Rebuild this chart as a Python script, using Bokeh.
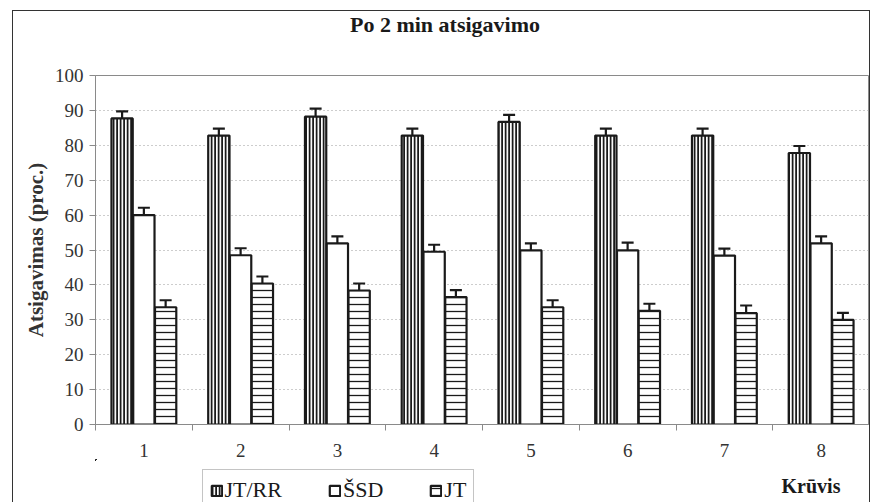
import numpy as np
from bokeh.plotting import figure
from bokeh.layouts import column
from bokeh.models import (Range1d, FixedTicker, Whisker, TeeHead, ColumnDataSource,
                          Legend, LegendItem, Label)
from bokeh.embed import file_html
from bokeh.resources import INLINE

categories = ["1", "2", "3", "4", "5", "6", "7", "8"]
series = ["JT/RR", "ŠSD", "JT"]
jt_rr = [87.7, 82.8, 88.2, 82.8, 86.7, 82.8, 82.8, 77.8]
ssd = [60.0, 48.5, 51.9, 49.5, 49.9, 49.9, 48.4, 51.9]
jt = [33.6, 40.4, 38.4, 36.5, 33.6, 32.6, 31.9, 30.0]
err_jt_rr = [2.0, 2.0, 2.3, 2.0, 2.0, 2.0, 2.0, 2.0]
err_ssd = [2.1, 2.0, 2.0, 2.0, 2.0, 2.2, 2.0, 2.0]
err_jt = [2.0, 2.0, 2.0, 2.0, 2.0, 2.0, 2.2, 2.0]
y_ticks = [0, 10, 20, 30, 40, 50, 60, 70, 80, 90, 100]
title_text = "Po 2 min atsigavimo"
x_name = "Krūvis"
y_name = "Atsigavimas (proc.)"

FONT = "Liberation Serif"
INK = "#1a1a1a"
AXC = "#8a8a8a"
CW = 856          # content width inside the outer frame
H_TOP = 30
H_MAIN = 418
H_LEG = 43
FX0, FX1 = 95.5, 869.5   # page x of the (aligned) frames


def strip(h, yr):
    f = figure(width=CW, height=h, output_backend="svg", toolbar_location=None,
               x_range=Range1d(FX0, FX1), y_range=yr,
               x_axis_location=None, y_axis_location=None,
               min_border=0, background_fill_color="white", border_fill_color="white")
    f.outline_line_color = None
    f.xgrid.visible = False
    f.ygrid.visible = False
    return f


# ---------------- title strip ----------------
pt = strip(H_TOP, Range1d(0, H_TOP))
pt.add_layout(Label(x=445, y=17.5, text=title_text, text_font=FONT,
                    text_font_size="22px", text_font_style="bold",
                    text_align="center", text_baseline="middle", text_color=INK))

# ---------------- main chart ----------------
p = figure(width=CW, height=H_MAIN, output_backend="svg", toolbar_location=None,
           x_range=Range1d(0, len(categories)), y_range=Range1d(0, 100),
           min_border_left=82, min_border_right=0, min_border_top=34,
           min_border_bottom=0, background_fill_color="white",
           border_fill_color="white")
p.title = None
p.outline_line_color = AXC
p.outline_line_width = 1

centers = np.arange(len(categories)) + 0.5
offsets = [-0.225, 0.0, 0.225]
bw = 0.22

styles = [
    dict(fill_color="white", hatch_pattern="vertical_line", hatch_scale=3.5,
         hatch_weight=2.1, hatch_color=INK),
    dict(fill_color="white"),
    dict(fill_color="white", hatch_pattern="horizontal_line", hatch_scale=7,
         hatch_weight=1.3, hatch_color=INK),
]
vals = [jt_rr, ssd, jt]
errs = [err_jt_rr, err_ssd, err_jt]
sources = []
for k in range(3):
    src = ColumnDataSource(dict(
        x=centers + offsets[k], top=vals[k],
        upper=np.array(vals[k]) + np.array(errs[k]),
        lower=np.array(vals[k]) - np.array(errs[k])))
    sources.append(src)
    p.vbar(x="x", top="top", bottom=0, width=bw, source=src,
           line_color=INK, line_width=2.2, **styles[k])
    wk = Whisker(base="x", upper="upper", lower="lower", source=src,
                 line_color=INK, line_width=2.2,
                 upper_head=TeeHead(size=12, line_color=INK, line_width=2.2),
                 lower_head=TeeHead(size=12, line_color=INK, line_width=2.2))
    p.add_layout(wk)

p.xgrid.visible = False
p.ygrid.ticker = FixedTicker(ticks=y_ticks[1:-1])
p.ygrid.grid_line_color = "#9a9a9a"
p.ygrid.grid_line_dash = "1 3"
p.ygrid.grid_line_width = 1

p.yaxis.ticker = FixedTicker(ticks=y_ticks)
p.yaxis.axis_line_color = AXC
p.yaxis.major_tick_line_color = AXC
p.yaxis.major_tick_out = 6
p.yaxis.major_tick_in = 0
p.yaxis.minor_tick_line_color = None
p.yaxis.major_label_standoff = 6
p.yaxis.major_label_text_font = FONT
p.yaxis.major_label_text_font_size = "19px"
p.yaxis.major_label_text_color = "#333333"
p.yaxis.axis_label = y_name
p.yaxis.axis_label_text_font = FONT
p.yaxis.axis_label_text_font_size = "21px"
p.yaxis.axis_label_text_font_style = "bold"
p.yaxis.axis_label_text_color = "#333333"
p.yaxis.axis_label_standoff = 4

p.xaxis.ticker = FixedTicker(ticks=list(centers),
                             minor_ticks=list(range(len(categories) + 1)))
p.xaxis.major_label_overrides = {float(c): lab for c, lab in zip(centers, categories)}
p.xaxis.major_tick_out = 0
p.xaxis.major_tick_in = 0
p.xaxis.minor_tick_out = 6
p.xaxis.minor_tick_in = 0
p.xaxis.minor_tick_line_color = AXC
p.xaxis.axis_line_color = AXC
p.xaxis.major_label_standoff = 13
p.xaxis.major_label_text_font = FONT
p.xaxis.major_label_text_font_size = "19px"
p.xaxis.major_label_text_color = "#333333"

# ---------------- legend strip ----------------
# x data units equal page pixels; the series values lie above this y view,
# so these renderers only supply the legend swatches
pl = strip(H_LEG, Range1d(-H_LEG, 0))
leg_renderers = []
for k in range(3):
    r = pl.vbar(x="x", top="top", bottom="top", width=bw, source=sources[k],
                line_color=INK, line_width=2.2, **styles[k])
    leg_renderers.append(r)

legend = Legend(items=[LegendItem(label=s, renderers=[r]) for s, r in zip(series, leg_renderers)],
                orientation="horizontal", location=(106.5, -9),
                label_text_font=FONT, label_text_font_size="22px",
                label_text_color=INK, glyph_width=13, glyph_height=13,
                label_standoff=2, spacing=46, padding=7, margin=0,
                border_line_color=AXC, background_fill_color="white")
pl.add_layout(legend, "center")

pl.add_layout(Label(x=811, y=-H_LEG + 16.5, text=x_name, text_font=FONT,
                    text_font_size="20px", text_font_style="bold",
                    text_align="center", text_baseline="middle", text_color=INK))

layout = column(pt, p, pl, spacing=0, margin=(10, 0, 0, 12),
                styles={"border-left": "1.5px solid #333333",
                        "border-top": "1.5px solid #333333",
                        "border-right": "1.5px solid #333333"})

open("out.html", "w").write(file_html(layout, INLINE))
